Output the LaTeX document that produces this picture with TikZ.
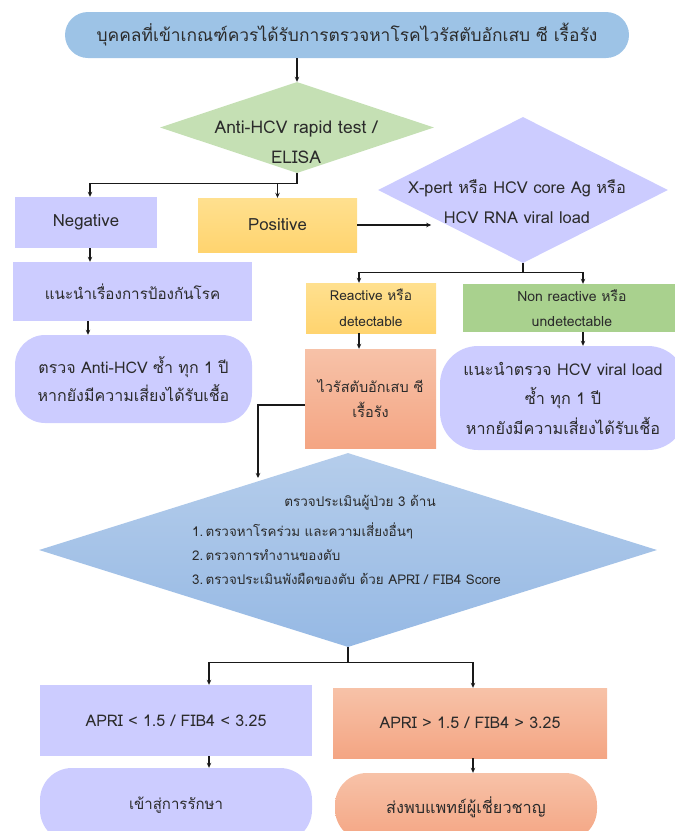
\documentclass[tikz,border=0pt]{standalone}
\usepackage{fontspec}
\setmainfont{Loma}[Script=Thai]
\usetikzlibrary{shapes.geometric,arrows.meta}
\definecolor{txt}{HTML}{2B2B2B}
\definecolor{topblue}{HTML}{9DC3E6}
\definecolor{lav}{HTML}{CCCCFF}
\definecolor{dgreen}{HTML}{C5E0B4}
\definecolor{bgreen}{HTML}{A9D18E}
\definecolor{yelT}{HTML}{FFE08F}
\definecolor{yelB}{HTML}{FFD46F}
\definecolor{salT}{HTML}{F7C2A8}
\definecolor{salB}{HTML}{F4A583}
\definecolor{bluT}{HTML}{B5CDEB}
\definecolor{bluB}{HTML}{96B9E4}
\begin{document}
\begin{tikzpicture}[x=1pt,y=-1pt,
  every node/.style={text=txt},
  sq/.style={rectangle, draw=none, inner sep=0pt, align=center},
  pill/.style={rectangle, draw=none, rounded corners=#1, inner sep=0pt, align=center},
  dia/.style={diamond, draw=none, inner sep=0pt},
  lbl/.style={inner sep=0pt, align=center},
  fs/.style args={#1/#2}{font=\fontsize{#1}{#2}\selectfont},
  conn/.style={draw=black!90, line width=1.1pt, -{Stealth[length=5pt,width=4.5pt]}},
  line/.style={draw=black!90, line width=1.1pt}]
\path[use as bounding box, clip] (0,0) rectangle (675,831);
% shapes
\node[pill=23pt, fill=topblue, minimum width=564pt, minimum height=46pt, fs=17.4/20] (top) at (347,35)
  {บุคคลที่เข้าเกณฑ์ควรได้รับการตรวจหาโรคไวรัสตับอักเสบ ซี เรื้อรัง};
\node[dia, fill=dgreen, minimum width=274pt, minimum height=91pt] (d1) at (297,127.5) {};
\node[lbl, fs=17.5/30] (d1t) at (296,142) {Anti-HCV rapid test /\\ELISA};
\node[sq, fill=lav, minimum width=142pt, minimum height=51pt, fs=16.8/20] (neg) at (86,222.5) {Negative};
\node[sq, top color=yelT, bottom color=yelB, minimum width=159pt, minimum height=54pt, fs=16.8/20] (pos) at (277.5,225) {Positive};
\node[dia, fill=lav, minimum width=290pt, minimum height=146pt] (d2) at (523,190) {};
\node[lbl, fs=16.4/30] (d2t) at (517,202) {X-pert หรือ HCV core Ag หรือ\\HCV RNA viral load};
\node[sq, fill=lav, minimum width=239pt, minimum height=59pt, fs=15.2/20] (prev) at (132.5,291.5) {แนะนำเรื่องการป้องกันโรค};
\node[pill=30pt, fill=lav, minimum width=237pt, minimum height=88pt, fs=16/28] (anti) at (133.5,379)
  {ตรวจ Anti-HCV ซ้ำ ทุก 1 ปี\\หากยังมีความเสี่ยงได้รับเชื้อ};
\node[sq, top color=yelT, bottom color=yelB, minimum width=130pt, minimum height=50pt, fs=13.7/26] (rea) at (371,308)
  {Reactive หรือ\\detectable};
\node[sq, fill=bgreen, minimum width=218pt, minimum height=48pt, fs=14/25] (nrea) at (572,308)
  {Non reactive หรือ\\undetectable};
\node[sq, top color=salT, bottom color=salB, minimum width=131pt, minimum height=99pt, fs=14.5/25] (vir) at (370.5,398.5)
  {ไวรัสตับอักเสบ ซี\\เรื้อรัง};
\node[pill=38pt, fill=lav, minimum width=246pt, minimum height=104pt, fs=16.2/29.5] (nrr) at (563,398)
  {แนะนำตรวจ HCV viral load\\ซ้ำ ทุก 1 ปี\\หากยังมีความเสี่ยงได้รับเชื้อ};
\node[dia, top color=bluT, bottom color=bluB, minimum width=618pt, minimum height=194pt] (d3) at (348,550) {};
\node[lbl, fs=13.5/16] (d3t) at (360,503) {ตรวจประเมินผู้ป่วย 3 ด้าน};
\node[lbl, align=left, anchor=west, fs=13.4/24] (d3l) at (192,554)
  {1.\,ตรวจหาโรคร่วม และความเสี่ยงอื่นๆ\\2.\,ตรวจการทำงานของตับ\\3.\,ตรวจประเมินพังผืดของตับ ด้วย APRI / FIB4 Score};
\node[sq, fill=lav, minimum width=272pt, minimum height=71pt, fs=16/20] (aprilo) at (176,720.5) {APRI < 1.5 / FIB4 < 3.25};
\node[sq, top color=salT, bottom color=salB, minimum width=274pt, minimum height=70pt, fs=16/20] (aprihi) at (470,723) {APRI > 1.5 / FIB4 > 3.25};
\node[pill=32pt, fill=lav, minimum width=272pt, minimum height=74pt, fs=15/20] (treat) at (176,805) {เข้าสู่การรักษา};
\node[pill=32pt, top color=salT, bottom color=salB, minimum width=262pt, minimum height=68pt, fs=16.3/20] (spec) at (466,807) {ส่งพบแพทย์ผู้เชี่ยวชาญ};
% connectors
\draw[conn] (top.south -| d1.north) -- (d1.north);
\coordinate (j1) at ([yshift=-10pt]d1.south);
\coordinate (n0) at ([xshift=4pt]neg.north);
\draw[conn] (d1.south) -- (j1) -| (n0);
\draw[conn] (j1 -| pos.north) -- (pos.north);
\coordinate (pe) at ([xshift=74pt]pos.east);
\draw[conn] (pos.east) -- (pe);
\coordinate (j2) at ([yshift=-9pt]d2.south);
\draw[conn] (d2.south) -- (j2) -| ([xshift=-12pt]rea.north);
\draw[conn] (j2) -| ([xshift=11pt]nrea.north);
\coordinate (r1) at ([xshift=-12pt]rea.south);
\draw[conn] (r1) -- (r1 |- vir.north);
\coordinate (r2) at ([xshift=11pt]nrea.south);
\draw[conn] (r2) -- (r2 |- nrr.north);
\coordinate (n1) at ([xshift=4pt]neg.south);
\draw[conn] (n1) -- (n1 |- prev.north);
\coordinate (n2) at ([xshift=-44.5pt]prev.south);
\draw[conn] (n2) -- (n2 |- anti.north);
\coordinate (v1) at ([yshift=-6.5pt]vir.west);
\coordinate (v2) at (258,478);
\draw[conn] (v1) -| (v2);
\coordinate (j3) at ([yshift=-15pt]d3.south);
\draw[conn] (d3.south) -- (j3) -| ([xshift=33pt]aprilo.north);
\draw[conn] (j3) -| ([xshift=3pt]aprihi.north);
\coordinate (a1) at ([xshift=33pt]aprilo.south);
\draw[conn] (a1) -- (a1 |- treat.north);
\coordinate (a2) at ([xshift=3pt]aprihi.south);
\draw[conn] (a2) -- (a2 |- spec.north);
\end{tikzpicture}
\end{document}
